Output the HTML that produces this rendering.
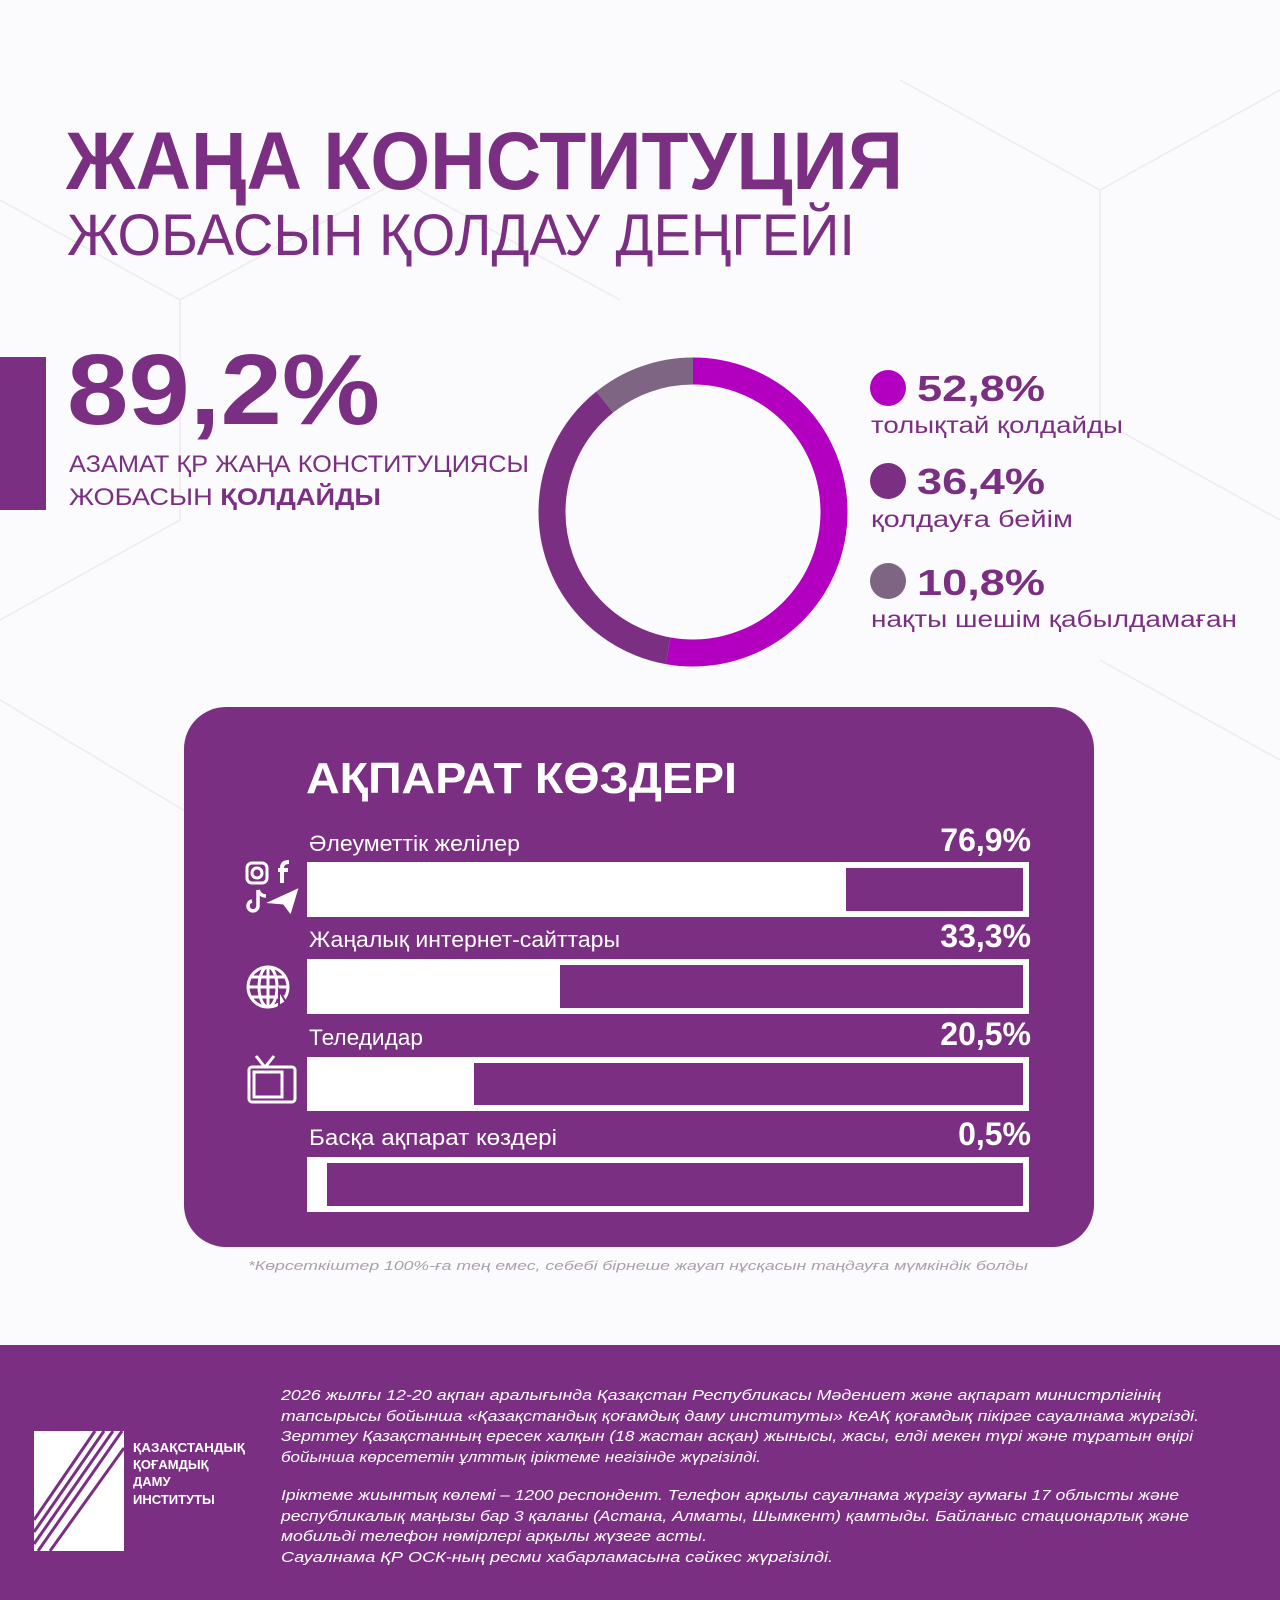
<!DOCTYPE html>
<html><head><meta charset="utf-8"><style>
html,body{margin:0;padding:0;background:#fbfafc;}
svg{display:block;font-family:"Liberation Sans","DejaVu Sans",sans-serif;}
</style></head><body>
<svg width="1280" height="1600" viewBox="0 0 1280 1600" xmlns="http://www.w3.org/2000/svg">
<rect width="1280" height="1600" fill="#fbfafc"/>
<g stroke="#eeeaf0" stroke-width="1.5" fill="none">
<path d="M0 200 L180 300 L180 520 L0 620"/><path d="M180 300 L400 180 L620 300"/><path d="M900 80 L1100 190 L1280 90"/><path d="M1100 190 L1100 420 L1280 520"/><path d="M0 700 L200 820"/><path d="M1100 660 L1280 760"/>
</g>
<text x="66" y="189" font-size="82" font-weight="bold" fill="#7b2f82" textLength="837" lengthAdjust="spacingAndGlyphs">ЖАҢА КОНСТИТУЦИЯ</text>
<text x="67" y="255" font-size="58" fill="#7b2f82" textLength="788" lengthAdjust="spacingAndGlyphs">ЖОБАСЫН ҚОЛДАУ ДЕҢГЕЙІ</text>
<rect x="0" y="357" width="46" height="153" fill="#7b2f82"/>
<text x="67" y="424" font-size="100" font-weight="bold" fill="#7b2f82" textLength="313" lengthAdjust="spacingAndGlyphs">89,2%</text>
<text x="69" y="472" font-size="24" fill="#7b2f82" textLength="460" lengthAdjust="spacingAndGlyphs">АЗАМАТ ҚР ЖАҢА КОНСТИТУЦИЯСЫ</text>
<text x="69" y="505" font-size="24" fill="#7b2f82" textLength="312" lengthAdjust="spacingAndGlyphs">ЖОБАСЫН <tspan font-weight="bold">ҚОЛДАЙДЫ</tspan></text>
<g transform="rotate(-90 693 512)" fill="none" stroke-width="27">
<circle cx="693" cy="512" r="141" stroke="#b300c0" stroke-dasharray="467.8 1000"/>
<circle cx="693" cy="512" r="141" stroke="#7b2f82" stroke-dasharray="0 467.8 322.5 1000"/>
<circle cx="693" cy="512" r="141" stroke="#7d6583" stroke-dasharray="0 790.3 95.7 1000"/>
</g>
<circle cx="888" cy="388" r="18" fill="#b300c0"/>
<text x="917" y="401" font-size="36" font-weight="bold" fill="#7b2f82" textLength="128" lengthAdjust="spacingAndGlyphs">52,8%</text>
<text x="871" y="433" font-size="23" fill="#7b2f82" textLength="252" lengthAdjust="spacingAndGlyphs">толықтай қолдайды</text>
<circle cx="888" cy="481" r="18" fill="#7b2f82"/>
<text x="917" y="494" font-size="36" font-weight="bold" fill="#7b2f82" textLength="128" lengthAdjust="spacingAndGlyphs">36,4%</text>
<text x="871" y="527" font-size="23" fill="#7b2f82" textLength="202" lengthAdjust="spacingAndGlyphs">қолдауға бейім</text>
<circle cx="888" cy="581" r="18" fill="#7d6583"/>
<text x="917" y="595" font-size="36" font-weight="bold" fill="#7b2f82" textLength="128" lengthAdjust="spacingAndGlyphs">10,8%</text>
<text x="871" y="627" font-size="23" fill="#7b2f82" textLength="366" lengthAdjust="spacingAndGlyphs">нақты шешім қабылдамаған</text>
<rect x="184" y="707" width="910" height="540" rx="42" fill="#7b2f82"/>
<text x="306" y="793" font-size="44" font-weight="bold" fill="#fff" textLength="431" lengthAdjust="spacingAndGlyphs">АҚПАРАТ КӨЗДЕРІ</text>
<g fill="#fff">
<text x="309" y="851" font-size="22" textLength="211" lengthAdjust="spacingAndGlyphs">Әлеуметтік желілер</text>
<text x="1031" y="851" font-size="32" font-weight="bold" text-anchor="end">76,9%</text>
<text x="309" y="947" font-size="22" textLength="311" lengthAdjust="spacingAndGlyphs">Жаңалық интернет-сайттары</text>
<text x="1031" y="947" font-size="32" font-weight="bold" text-anchor="end">33,3%</text>
<text x="309" y="1045" font-size="22" textLength="114" lengthAdjust="spacingAndGlyphs">Теледидар</text>
<text x="1031" y="1045" font-size="32" font-weight="bold" text-anchor="end">20,5%</text>
<text x="309" y="1145" font-size="22" textLength="248" lengthAdjust="spacingAndGlyphs">Басқа ақпарат көздері</text>
<text x="1031" y="1145" font-size="32" font-weight="bold" text-anchor="end">0,5%</text>
</g>
<g fill="#fff">
<rect x="307" y="862" width="722" height="55"/><rect x="846" y="868" width="177" height="43" fill="#7b2f82"/>
<rect x="307" y="959" width="722" height="55"/><rect x="560" y="965" width="463" height="43" fill="#7b2f82"/>
<rect x="307" y="1057" width="722" height="54"/><rect x="474" y="1063" width="549" height="42" fill="#7b2f82"/>
<rect x="307" y="1157" width="722" height="55"/><rect x="327" y="1163" width="696" height="43" fill="#7b2f82"/>
</g>
<g stroke="#fff" fill="none" stroke-width="3">
<rect x="247" y="863" width="20" height="20" rx="5"/><circle cx="257" cy="873" r="5"/>
<path d="M282 883 V868 Q282 862 289 862 M278 870 H288" stroke-width="4"/>
<path d="M258 890 V906 A5 5 0 1 1 252 901 M258 890 Q260 896 266 896" stroke-width="3.5"/>
<path d="M272 902 L296 891 L290 911 L284 903 Z" fill="#fff"/>
<circle cx="268" cy="987" r="20"/><ellipse cx="268" cy="987" rx="9" ry="20"/><path d="M248 987 H288 M251 977 H285 M251 997 H285 M268 967 V1007"/>
<path d="M279 990 L289 1008 L284 1003 L279 1006 Z" fill="#fff" stroke="#7b2f82" stroke-width="2"/>
<rect x="249" y="1067" width="46" height="35" rx="3"/><rect x="254" y="1072" width="28" height="25"/><path d="M264 1066 L256 1056 M266 1066 L274 1056"/>
</g>
<text x="248" y="1270" font-size="13" font-style="italic" fill="#a9a0ad" textLength="780" lengthAdjust="spacingAndGlyphs">*Көрсеткіштер 100%-ға тең емес, себебі бірнеше жауап нұсқасын таңдауға мүмкіндік болды</text>
<rect x="0" y="1345" width="1280" height="255" fill="#7b2f82"/>
<g>
<rect x="34" y="1431" width="90" height="120" fill="#fff"/>
<g stroke="#7b2f82" stroke-width="3">
<path d="M34 1520 L95 1431 M34 1532 L104 1431 M34 1544 L113 1431 M38 1551 L122 1431 M50 1551 L124 1448"/>
</g>
</g>
<g fill="#fff" font-size="13" font-weight="bold">
<text x="133" y="1452" textLength="112" lengthAdjust="spacingAndGlyphs">ҚАЗАҚСТАНДЫҚ</text>
<text x="133" y="1469">ҚОҒАМДЫҚ</text>
<text x="133" y="1486">ДАМУ</text>
<text x="133" y="1504">ИНСТИТУТЫ</text>
</g>
<g fill="#fff" font-size="15" font-style="italic" lengthAdjust="spacingAndGlyphs">
<text x="281" y="1400" textLength="880" lengthAdjust="spacingAndGlyphs">2026 жылғы 12-20 ақпан аралығында Қазақстан Республикасы Мәдениет және ақпарат министрлігінің</text>
<text x="281" y="1421" textLength="918" lengthAdjust="spacingAndGlyphs">тапсырысы бойынша «Қазақстандық қоғамдық даму институты» КеАҚ қоғамдық пікірге сауалнама жүргізді.</text>
<text x="281" y="1441" textLength="912" lengthAdjust="spacingAndGlyphs">Зерттеу Қазақстанның ересек халқын (18 жастан асқан) жынысы, жасы, елді мекен түрі және тұратын өңірі</text>
<text x="281" y="1462" textLength="480" lengthAdjust="spacingAndGlyphs">бойынша көрсететін ұлттық іріктеме негізінде жүргізілді.</text>
<text x="281" y="1500" textLength="898" lengthAdjust="spacingAndGlyphs">Іріктеме жиынтық көлемі – 1200 респондент. Телефон арқылы сауалнама жүргізу аумағы 17 облысты және</text>
<text x="281" y="1521" textLength="908" lengthAdjust="spacingAndGlyphs">республикалық маңызы бар 3 қаланы (Астана, Алматы, Шымкент) қамтыды. Байланыс стационарлық және</text>
<text x="281" y="1541" textLength="426" lengthAdjust="spacingAndGlyphs">мобильді телефон нөмірлері арқылы жүзеге асты.</text>
<text x="281" y="1562" textLength="552" lengthAdjust="spacingAndGlyphs">Сауалнама ҚР ОСК-ның ресми хабарламасына сәйкес жүргізілді.</text>
</g>
</svg>
</body></html>
